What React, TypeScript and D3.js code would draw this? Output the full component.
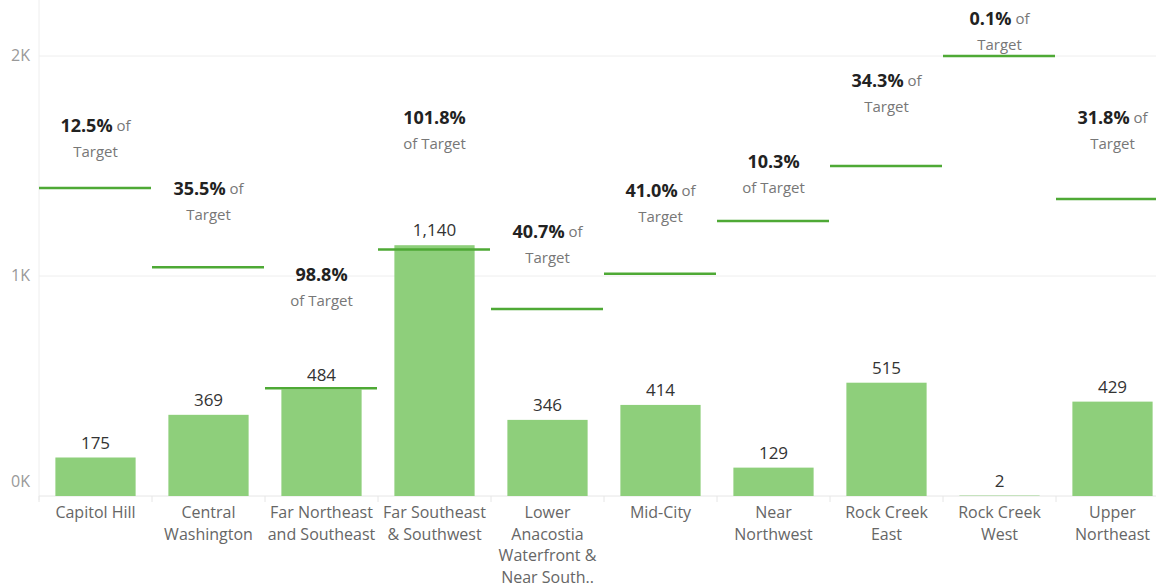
import React from "react";
import * as d3 from "d3";

const categories = [
  ["Capitol Hill"],
  ["Central", "Washington"],
  ["Far Northeast", "and Southeast"],
  ["Far Southeast", "& Southwest"],
  ["Lower", "Anacostia", "Waterfront &", "Near South.."],
  ["Mid-City"],
  ["Near", "Northwest"],
  ["Rock Creek", "East"],
  ["Rock Creek", "West"],
  ["Upper", "Northeast"],
];
const values = [175, 369, 484, 1140, 346, 414, 129, 515, 2, 429];
const targets = [1400, 1040, 490, 1120, 850, 1010, 1250, 1500, 2000, 1350];
// data value at which the "Target" annotation line sits
const annotationAt = [1570, 1280, 890, 1605, 1085, 1275, 1405, 1775, 2055, 1605];
// whether "of" wraps to the second annotation line
const ofOnSecondLine = [false, false, true, true, false, false, true, false, false, false];
const yTicks = [0, 1000, 2000];

const W = 1156;
const H = 588;
const FONT = "'Open Sans', 'DejaVu Sans', sans-serif";

export default function App() {
  const keys = categories.map((c) => c.join(" "));
  const x = d3.scaleBand<string>().domain(keys).range([39, 39 + 1130]).padding(0);
  const y = d3.scaleLinear().domain([0, 2000]).range([496, 56]);
  const bw = x.bandwidth();
  const barW = bw * 0.71;
  const pctFmt = d3.format(".1%");
  const numFmt = d3.format(",");
  const tickFmt = (v: number) => `${v / 1000}K`;

  return (
    <svg
      width={W}
      height={H}
      style={{ position: "absolute", left: 0, top: 0, background: "#fff" }}
      fontFamily={FONT}
    >
      {/* gridlines */}
      {yTicks
        .filter((t) => t > 0)
        .map((t) => (
          <line key={t} x1={39} x2={W} y1={y(t)} y2={y(t)} stroke="#eeeeee" strokeWidth={1} />
        ))}
      {/* y axis line */}
      <line x1={39} x2={39} y1={0} y2={500} stroke="#eeeeee" strokeWidth={1} />
      {/* baseline */}
      <line x1={39} x2={W} y1={y(0)} y2={y(0)} stroke="#e6e6e6" strokeWidth={1} />
      {/* band separators */}
      {keys.map((k) => (
        <line key={k} x1={x(k)!} x2={x(k)!} y1={y(0)} y2={y(0) + 6} stroke="#e6e6e6" strokeWidth={1} />
      ))}
      {/* y tick labels */}
      {yTicks.map((t) => (
        <text
          key={t}
          x={30}
          y={t === 0 ? 483 : y(t) + 1}
          textAnchor="end"
          dominantBaseline="middle"
          fontSize={16}
          fill="#999"
        >
          {tickFmt(t)}
        </text>
      ))}
      {/* bars */}
      {keys.map((k, i) => (
        <rect
          key={k}
          x={x(k)! + (bw - barW) / 2}
          y={y(values[i])}
          width={barW}
          height={y(0) - y(values[i])}
          fill="#8ecf7b"
        />
      ))}
      {/* value labels */}
      {keys.map((k, i) => (
        <text
          key={k}
          x={x(k)! + bw / 2}
          y={y(values[i]) - 9}
          textAnchor="middle"
          fontSize={17}
          fill="#333"
        >
          {numFmt(values[i])}
        </text>
      ))}
      {/* target lines */}
      {keys.map((k, i) => (
        <line
          key={k}
          x1={x(k)!}
          x2={x(k)! + bw - 1}
          y1={y(targets[i])}
          y2={y(targets[i])}
          stroke="#4ea935"
          strokeWidth={2.5}
        />
      ))}
      {/* target annotations */}
      {keys.map((k, i) => {
        const cx = x(k)! + bw / 2;
        const yy = y(annotationAt[i]) + 2;
        const pct = pctFmt(values[i] / targets[i]);
        return (
          <g key={k}>
            <text x={cx} y={yy - 26} textAnchor="middle" dominantBaseline="middle" fill="#222">
              <tspan fontWeight={700} fontSize={18}>
                {pct}
              </tspan>
              {!ofOnSecondLine[i] && (
                <tspan fontSize={15} fill="#777">
                  {" of"}
                </tspan>
              )}
            </text>
            <text x={cx} y={yy} textAnchor="middle" dominantBaseline="middle" fontSize={15} fill="#777">
              {ofOnSecondLine[i] ? "of Target" : "Target"}
            </text>
          </g>
        );
      })}
      {/* category labels */}
      {keys.map((k, i) => (
        <text key={k} textAnchor="middle" fontSize={16} fill="#666">
          {categories[i].map((line, j) => (
            <tspan key={j} x={x(k)! + bw / 2} y={514 + j * 21.5} dominantBaseline="middle">
              {line}
            </tspan>
          ))}
        </text>
      ))}
    </svg>
  );
}
